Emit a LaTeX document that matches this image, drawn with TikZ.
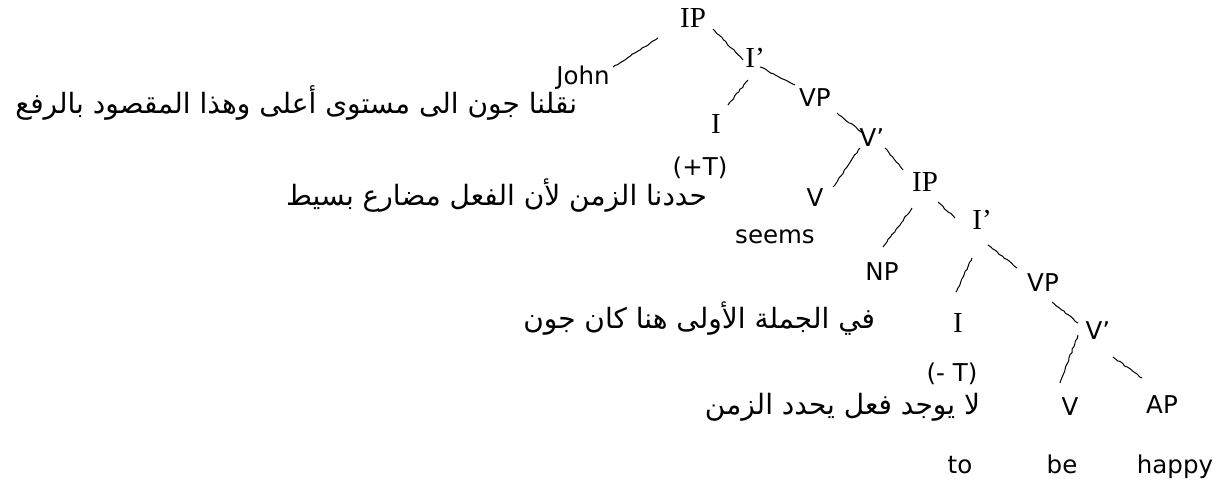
\documentclass[tikz,border=0pt]{standalone}
\usepackage{fontspec}
\setmainfont{DejaVu Sans}
\newfontfamily\seriffont{Liberation Serif}
\newfontfamily\arabicfont[Script=Arabic]{DejaVu Sans}
\TeXXeTstate=1
\usetikzlibrary{decorations.pathmorphing}
\begin{document}
\begin{tikzpicture}[x=1pt,y=-1pt,
  every node/.style={inner sep=0pt,outer sep=0pt},
  sans/.style={font=\fontsize{24.5}{28}\selectfont},
  serif/.style={font=\seriffont\fontsize{29}{32}\selectfont},
  arab/.style={font=\arabicfont\fontsize{28}{32}\selectfont,anchor=base east},
  branch/.style={line width=1pt,decorate,decoration={random steps,segment length=3pt,amplitude=0.6pt}}]
\pgfmathsetseed{7}
\useasboundingbox[fill=white] (0,0) rectangle (1227,492);
% tree labels
\node[serif] (ip1) at (693,18) {IP};
\node[sans] (john) at (583,78) {John};
\node[serif] (ib1) at (755,58) {I’};
\node[sans] (vp1) at (815,98) {VP};
\node[serif] (i1) at (716,124) {I};
\node[sans,anchor=base] (t1) at (700,176) {(+T)};
\node[sans] (vb1) at (872,138) {V’};
\node[sans] (v1) at (815,198) {V};
\node[sans,anchor=base] (seems) at (775,243) {seems};
\node[serif] (ip2) at (925,182) {IP};
\node[serif] (ib2) at (982,220) {I’};
\node[sans] (np) at (882,272) {NP};
\node[sans] (vp2) at (1043,283) {VP};
\node[serif] (i2) at (958,323) {I};
\node[sans,anchor=base] (t2) at (952,381) {(- T)};
\node[sans] (vb2) at (1098,331) {V’};
\node[sans] (v2) at (1070,407) {V};
\node[sans] (ap) at (1162,405) {AP};
\node[sans,anchor=base] (to) at (960,473) {to};
\node[sans,anchor=base] (be) at (1062,473) {be};
\node[sans,anchor=base] (happy) at (1175,473) {happy};
% Arabic notes
\node[arab] (ar1) at (577,114) {\beginR نقلنا جون الى مستوى أعلى وهذا المقصود بالرفع\endR};
\node[arab] (ar2) at (707,206) {\beginR حددنا الزمن لأن الفعل مضارع بسيط\endR};
\node[arab] (ar3) at (875,328) {\beginR في الجملة الأولى هنا كان جون\endR};
\node[arab] (ar4) at (980,414) {\beginR لا يوجد فعل يحدد الزمن\endR};
% branches
\draw[branch] ([shift={(-35,20)}]ip1.center) -- ([shift={(30,-11)}]john.center);
\draw[branch] ([shift={(20,11)}]ip1.center) -- ([shift={(-12,2)}]ib1.center);
\draw[branch] ([shift={(-7,22)}]ib1.center) -- ([shift={(12,-19)}]i1.center);
\draw[branch] ([shift={(5,9)}]ib1.center) -- ([shift={(-20,-13)}]vp1.center);
\draw[branch] ([shift={(22,15)}]vp1.center) -- ([shift={(-9,-5)}]vb1.center);
\draw[branch] ([shift={(-12,10)}]vb1.center) -- ([shift={(18,-11)}]v1.center);
\draw[branch] ([shift={(13,10)}]vb1.center) -- ([shift={(-22,-12)}]ip2.center);
\draw[branch] ([shift={(13,20)}]ip2.center) -- ([shift={(-27,-2)}]ib2.center);
\draw[branch] ([shift={(-13,26)}]ip2.center) -- ([shift={(1,-25)}]np.center);
\draw[branch] ([shift={(-10,38)}]ib2.center) -- ([shift={(-2,-31)}]i2.center);
\draw[branch] ([shift={(6,25)}]ib2.center) -- ([shift={(-26,-15)}]vp2.center);
\draw[branch] ([shift={(9,19)}]vp2.center) -- ([shift={(-20,-8)}]vb2.center);
\draw[branch] ([shift={(-20,4)}]vb2.center) -- ([shift={(-10,-24)}]v2.center);
\draw[branch] ([shift={(15,26)}]vb2.center) -- ([shift={(-20,-27)}]ap.center);
\end{tikzpicture}
\end{document}
